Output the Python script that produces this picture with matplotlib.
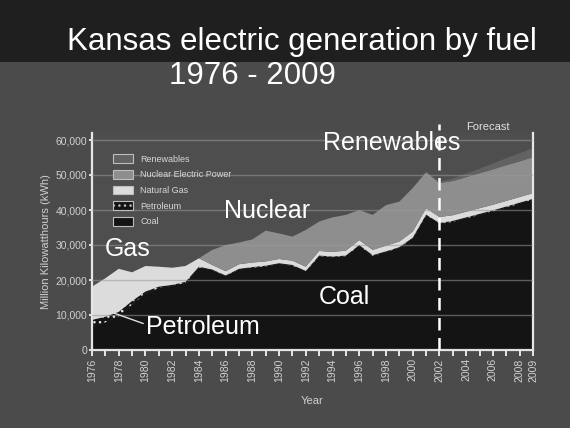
import matplotlib
matplotlib.use("Agg")
import matplotlib.pyplot as plt
from matplotlib.patches import Rectangle, Patch
from matplotlib.ticker import FuncFormatter, MultipleLocator
import numpy as np

plt.rcParams['font.family'] = ['Liberation Sans', 'DejaVu Sans']

years = list(range(1976, 2010))
coal = [6800, 7900, 9600, 13000, 16100, 17700, 18300, 19200, 23500, 22800,
        21100, 23000, 23500, 23900, 24600, 24100, 22400, 26800, 26500, 26800,
        29800, 26900, 28000, 29200, 31900, 38500, 36100, 36600, 37600, 38600,
        39600, 40700, 41800, 42900]
petroleum = [1800, 1600, 1300, 1000, 600, 400, 300, 300, 300, 200,
             200, 200, 200, 200, 200, 200, 200, 200, 200, 200,
             200, 200, 200, 200, 200, 200, 200, 300, 300, 300,
             300, 300, 300, 300]
natural_gas = [9500, 11000, 12300, 8200, 7300, 5700, 4900, 4500, 2400, 1300,
               1200, 1300, 1300, 1200, 1200, 1200, 1200, 1300, 1300, 1400,
               1400, 1500, 1600, 1600, 1700, 1800, 1700, 1600, 1600, 1600,
               1600, 1600, 1600, 1600]
nuclear = [0, 0, 0, 0, 0, 0, 0, 0, 0, 4300,
           7500, 6200, 6600, 8800, 7300, 6900, 10500, 8400, 9900, 10200,
           8600, 10000, 11600, 11400, 12500, 10300, 9700, 9800, 9900, 10000,
           10100, 10200, 10200, 10300]
renewables = [0, 0, 0, 0, 0, 0, 0, 0, 0, 0,
              0, 0, 0, 0, 0, 0, 0, 0, 0, 0,
              0, 0, 0, 0, 100, 200, 400, 700, 1000, 1300,
              1700, 2000, 2300, 2600]
series_names = ["Coal", "Petroleum", "Natural Gas", "Nuclear Electric Power", "Renewables"]
xtick_years = [1976, 1978, 1980, 1982, 1984, 1986, 1988, 1990, 1992, 1994,
               1996, 1998, 2000, 2002, 2004, 2006, 2008, 2009]
forecast_year = 2002

fig = plt.figure(figsize=(5.7, 4.28), dpi=100)
fig.patch.set_facecolor('#4b4b4b')
fig.add_artist(Rectangle((0, 1 - 62 / 428), 1, 62 / 428, transform=fig.transFigure,
                         facecolor='#1f1f1f', edgecolor='none', zorder=0))

ax = fig.add_axes([92 / 570, 1 - 350 / 428, 441 / 570, 217 / 428])
ax.set_facecolor('#4e4e4e')

x = np.array(years)
layers = [np.array(coal), np.array(petroleum), np.array(natural_gas),
          np.array(nuclear), np.array(renewables)]
colors = ['#141414', '#141414', '#dcdcdc', '#8e8e8e', '#626262']
hatches = [None, '...', None, None, None]
base = np.zeros(len(x))
handles = []
for lay, col, h, name in zip(layers, colors, hatches, series_names):
    top = base + lay
    if h:
        ax.fill_between(x, base, top, facecolor=col, edgecolor='#e8e8e8', hatch=h,
                        linewidth=0, zorder=2)
    else:
        ax.fill_between(x, base, top, facecolor=col, edgecolor='none', linewidth=0, zorder=2)
    handles.append(Patch(facecolor=col, edgecolor='#bdbdbd', hatch=h, linewidth=0.8,
                         label=name))
    base = top

ax.set_xlim(1976, 2009)
ax.set_ylim(0, 62000)
ax.set_yticks(range(0, 60001, 10000))
ax.yaxis.set_major_formatter(FuncFormatter(lambda v, p: f"{int(v):,}"))
ax.set_xticks(xtick_years)
ax.set_xticklabels([str(y) for y in xtick_years], rotation=90)
ax.xaxis.set_minor_locator(MultipleLocator(1))
ax.yaxis.grid(True, color='#9a9a9a', linewidth=1.0, alpha=0.55, zorder=3)
ax.set_axisbelow(False)

for s in ['left', 'bottom', 'right']:
    ax.spines[s].set_color('#e6e6e6')
    ax.spines[s].set_linewidth(1.6)
ax.spines['top'].set_visible(False)
ax.tick_params(axis='both', colors='#e6e6e6', labelcolor='#d0d0d0', labelsize=7.5,
               width=1.4, length=4, direction='out')
ax.tick_params(axis='y', length=2, pad=1.5)
ax.tick_params(axis='x', which='minor', colors='#e6e6e6', width=1.4, length=4)
ax.tick_params(axis='x', labelsize=7.5, pad=2)

ax.set_ylabel('Million Kilowatthours (kWh)', color='#d0d0d0', fontsize=8, labelpad=3)
ax.set_xlabel('Year', color='#d0d0d0', fontsize=8, labelpad=10)

# forecast divider
ax.plot([forecast_year, forecast_year], [0, 64500], color='white', lw=1.8,
        linestyle=(0, (5, 3)), zorder=5, clip_on=False)
ax.text(2005.6, 63800, 'Forecast', color='#e0e0e0', fontsize=8, ha='center', va='center')

leg = ax.legend(handles=handles[::-1], loc='upper left', bbox_to_anchor=(0.03, 0.94),
                frameon=False, fontsize=6.5, labelcolor='#d8d8d8', handlelength=2.2,
                handleheight=1.1, labelspacing=0.7, handletextpad=0.8)

lbl = dict(color='white', fontsize=18, ha='center', va='center', zorder=6)
ax.text(1978.7, 28900, 'Gas', **lbl)
ax.text(1989.1, 39700, 'Nuclear', **lbl)
ax.text(1998.4, 59000, 'Renewables', **lbl)
ax.text(1994.9, 15200, 'Coal', **lbl)
ax.annotate('Petroleum', xy=(1977.6, 10600), xytext=(1984.3, 6600), color='white',
            fontsize=18, ha='center', va='center', zorder=6,
            arrowprops=dict(arrowstyle='-', color='#e0e0e0', lw=1.0,
                            shrinkA=0, shrinkB=0, relpos=(0, 0.6)))

fig.text(302 / 570, 1 - 42 / 428, 'Kansas electric generation by fuel', color='white',
         fontsize=22.5, ha='center', va='center')
fig.text(252 / 570, 1 - 76 / 428, '1976 - 2009', color='white',
         fontsize=22.5, ha='center', va='center')

fig.savefig('out.png', dpi=100, facecolor=fig.get_facecolor())
